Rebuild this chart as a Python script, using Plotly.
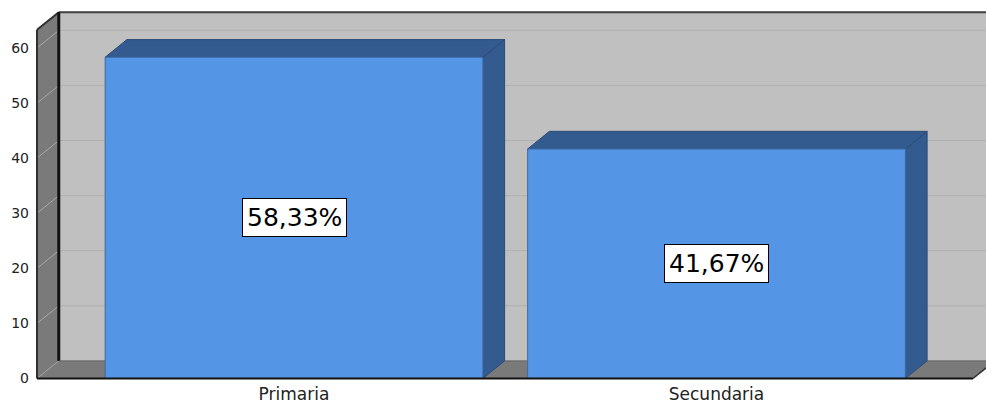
import plotly.graph_objects as go

categories = ["Primaria", "Secundaria"]
values = [58.33, 41.67]
labels = ["58,33%", "41,67%"]
yticks = [0, 10, 20, 30, 40, 50, 60]

# layout geometry (data units)
X_RANGE = [-0.6178, 1.6379]
Y_RANGE = [-0.635, 66.72]
X0 = -0.6083          # front-left wall edge
XF = 1.607            # front-right floor edge
YTOP = 63.3           # wall height
DX = 0.0515           # depth offset (x)
DY = 3.2              # depth offset (y)
HALF_W = 0.447        # bar half width

WALL = "#c0c0c0"
SIDE = "#7a7a7a"
FRONT = "#5595e5"
DARK = "#345b8f"

fig = go.Figure()


def poly(xs, ys, fill, lc="rgba(0,0,0,0)", lw=0):
    fig.add_trace(go.Scatter(x=xs + [xs[0]], y=ys + [ys[0]], mode="lines", fill="toself",
                             fillcolor=fill, line=dict(color=lc, width=lw),
                             hoverinfo="skip", showlegend=False))


def line(xs, ys, color, width):
    fig.add_trace(go.Scatter(x=xs, y=ys, mode="lines", line=dict(color=color, width=width),
                             hoverinfo="skip", showlegend=False))


# back wall
poly([X0 + DX, 2.0, 2.0, X0 + DX], [DY, DY, YTOP + DY, YTOP + DY], WALL)
# side wall
poly([X0, X0 + DX, X0 + DX, X0], [0, DY, YTOP + DY, YTOP], SIDE)
# floor
poly([X0, X0 + DX, XF + DX, XF], [0, DY, DY, 0], SIDE)

# gridlines
for v in yticks[1:]:
    line([X0 + DX, 2.0], [v + DY, v + DY], "#b0b0b0", 1)
    line([X0, X0 + DX], [v, v + DY], "#a8a8a8", 1)
line([X0, X0 + DX], [0, DY], "#a0a0a0", 1)

# wall edges
line([X0 + DX, 2.0], [YTOP + DY, YTOP + DY], "#404040", 2)
line([X0, X0 + DX], [YTOP, YTOP + DY], "#303030", 2)
line([X0 + DX, X0 + DX], [DY, YTOP + DY], "#111111", 3)
line([X0, X0], [0, YTOP], "#303030", 2)
line([X0 + DX, 2.0], [DY, DY], "#606060", 1)
line([XF, XF + DX], [0, DY], "#303030", 1.5)

# bars
for i, v in enumerate(values):
    c = i
    l, r = c - HALF_W, c + HALF_W
    poly([r, r + DX, r + DX, r], [0, DY, v + DY, v], DARK, "#2c4c78", 1)
    poly([l, l + DX, r + DX, r], [v, v + DY, v + DY, v], DARK, "#2c4c78", 1)
    poly([l, r, r, l], [0, 0, v, v], FRONT, "#3d6aa0", 1)
    fig.add_annotation(x=c, y=v / 2, text=labels[i], showarrow=False,
                       font=dict(family="DejaVu Sans", size=25, color="black"),
                       bgcolor="white", bordercolor="black", borderwidth=1, borderpad=4)

# front floor line
line([X0, XF], [0, 0], "#111111", 2)

fig.update_layout(
    width=986, height=404,
    margin=dict(l=33, r=0, t=11, b=22),
    paper_bgcolor="white", plot_bgcolor="white",
    showlegend=False,
    xaxis=dict(range=X_RANGE, tickvals=list(range(len(categories))), ticktext=categories,
               showgrid=False, zeroline=False, showline=False, ticks="",
               tickfont=dict(family="DejaVu Sans", size=17, color="#222222"),
               ticklabelstandoff=0, automargin=False, fixedrange=True),
    yaxis=dict(range=Y_RANGE, tickvals=yticks, ticktext=[str(t) for t in yticks],
               showgrid=False, zeroline=False, showline=False, ticks="",
               tickfont=dict(family="DejaVu Sans", size=14, color="#222222"),
               ticklabelstandoff=3, automargin=False, fixedrange=True),
)

fig.write_html("out.html")
